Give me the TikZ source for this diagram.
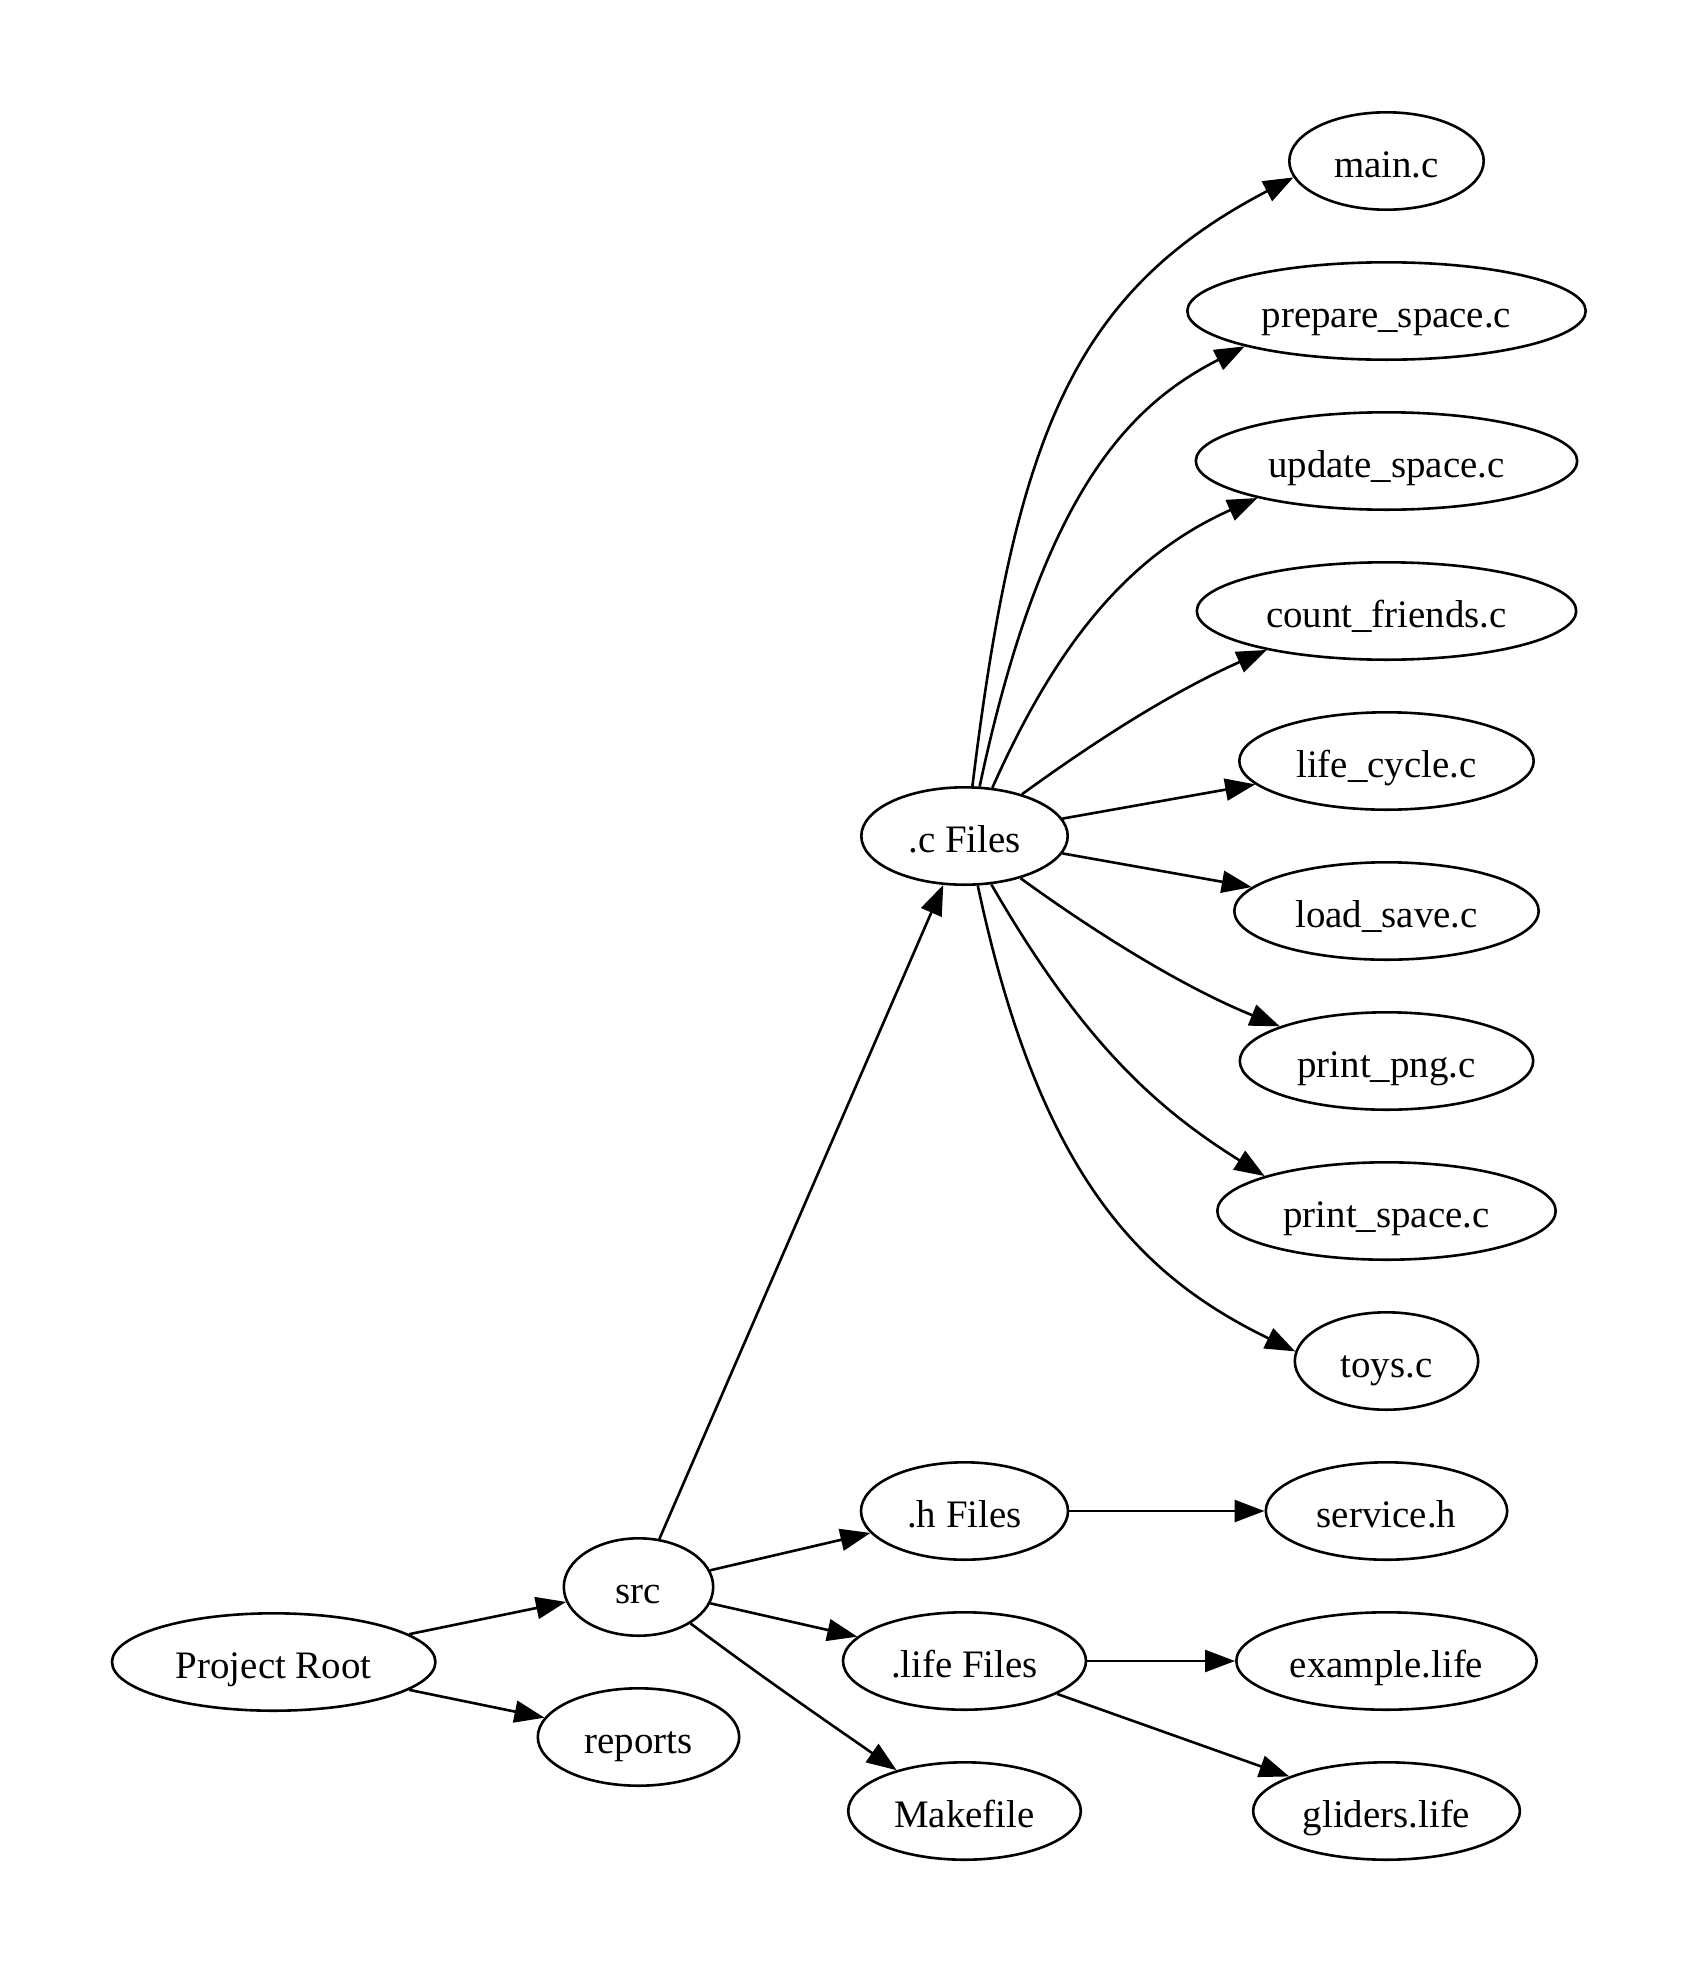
\documentclass[tikz,border=0pt]{standalone}
\usepackage{fontspec}
\setmainfont{Liberation Serif}
\usetikzlibrary{shapes.geometric,arrows.meta}
\begin{document}
\begin{tikzpicture}[x=1pt,y=1pt,
  nd/.style={draw, ellipse, line width=2.6pt, inner sep=0pt, minimum height=97.4pt,
    text height=38pt, text depth=4.4pt,
    font=\fontsize{38.9}{46}\selectfont},
  conn/.style={line width=2.6pt, -{Triangle[length=30pt,width=22pt]}}]
\useasboundingbox (0,0) rectangle (1698,-1973);
% right column
\node[nd, minimum width=194.4pt] (mainc) at (1386.5,-161) {main.c};
\node[nd, minimum width=398.4pt] (prep) at (1386.5,-311) {prepare\_space.c};
\node[nd, minimum width=381.4pt] (upd) at (1386.5,-461) {update\_space.c};
\node[nd, minimum width=379.4pt] (cnt) at (1386.5,-611) {count\_friends.c};
\node[nd, minimum width=294.4pt] (lc) at (1386.5,-761) {life\_cycle.c};
\node[nd, minimum width=304.4pt] (ls) at (1386.5,-911) {load\_save.c};
\node[nd, minimum width=293.4pt] (png) at (1386.5,-1061) {print\_png.c};
\node[nd, minimum width=338.4pt] (psp) at (1386.5,-1211) {print\_space.c};
\node[nd, minimum width=183.4pt] (toys) at (1386.5,-1361) {toys.c};
\node[nd, minimum width=241.4pt] (svc) at (1386.5,-1511) {service.h};
\node[nd, minimum width=300.4pt] (ex) at (1386.5,-1661) {example.life};
\node[nd, minimum width=266.8pt] (gl) at (1386.5,-1811) {gliders.life};
% middle column
\node[nd, minimum width=206.4pt] (cf) at (964.5,-836) {.c Files};
\node[nd, minimum width=207pt] (hf) at (964.5,-1511) {.h Files};
\node[nd, minimum width=243pt] (lf) at (964.5,-1661) {.life Files};
\node[nd, minimum width=232.6pt] (mk) at (964.5,-1811) {Makefile};
% left
\node[nd, minimum width=149.4pt] (src) at (638.5,-1587) {src};
\node[nd, minimum width=201.4pt] (rep) at (638.5,-1737) {reports};
\node[nd, minimum width=323.4pt] (pr) at (273.7,-1662) {Project Root};
% edges
\draw[conn] (pr) -- (src);
\draw[conn] (pr) -- (rep);
\draw[conn] (src) -- (cf);
\draw[conn] (src) -- (hf);
\draw[conn] (src) -- (lf);
\draw[conn] (src.325.6) .. controls +(-37:90) and +(145:70) .. (mk.149.6);
\draw[conn] (hf) -- (svc);
\draw[conn] (lf) -- (ex);
\draw[conn] (lf) -- (gl);
\draw[conn] (cf) -- (lc);
\draw[conn] (cf) -- (ls);
\draw[conn] (cf.81.6) .. controls +(83:350) and +(207.5:250) .. (mainc.190.3);
\draw[conn] (cf.73.2) .. controls +(78:300) and +(207:130) .. (prep.194.8);
\draw[conn] (cf.60.5) .. controls +(66:160) and +(204:140) .. (upd.196.2);
\draw[conn] (cf.36.2) .. controls +(36:100) and +(204:100) .. (cnt.198.4);
\draw[conn] (cf.323.8) .. controls +(-36:100) and +(158:100) .. (png.162.3);
\draw[conn] (cf.299.5) .. controls +(-60:180) and +(148:130) .. (psp.164.5);
\draw[conn] (cf.285.7) .. controls +(-78:300) and +(154:170) .. (toys.174.8);
\end{tikzpicture}
\end{document}
